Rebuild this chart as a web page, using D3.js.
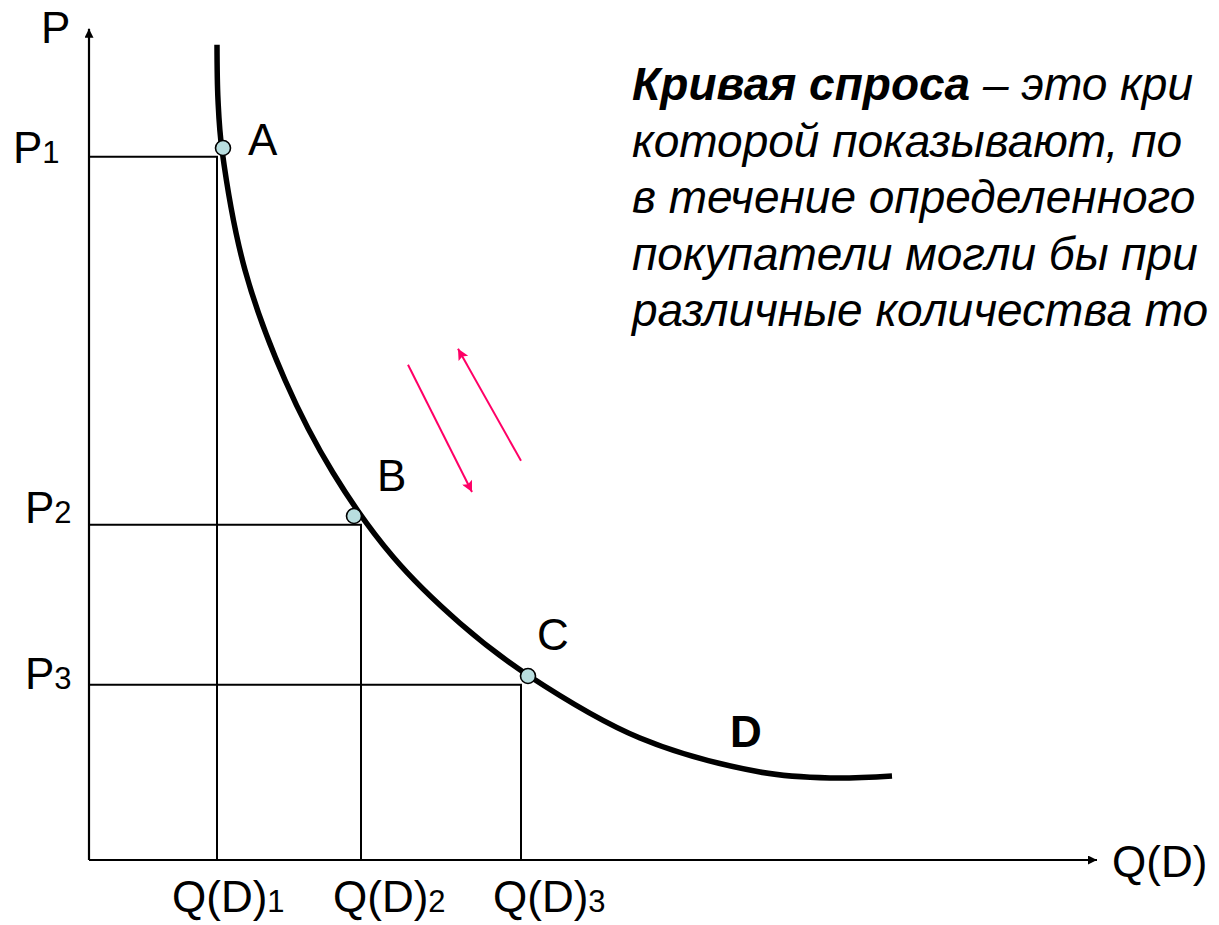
<!DOCTYPE html>
<html><head><meta charset="utf-8">
<script src="https://cdn.jsdelivr.net/npm/d3@7"></script>
<style>
html,body{margin:0;padding:0;background:#fff;overflow:hidden}
svg{display:block}
text{font-family:"Liberation Sans",Arial,sans-serif;fill:#000}
</style></head>
<body>
<script>
// ---- data (quantity units on x, price units on y) ----
const quantities = [12.8, 27.2, 43.2];               // Q(D)1, Q(D)2, Q(D)3
const prices = [87.9, 41.9, 21.9];                   // P1, P2, P3
const pointNames = ["A", "B", "C"];
const pointQ = [13.4, 26.5, 43.9];
const pointP = [89.0, 43.0, 23.0];
const curveQ = [12.8, 12.9, 13.3, 15.6, 19.6, 24.4, 30.4, 37.1, 43.9, 55.1, 67.1, 74.1, 80.3];
const curveP = [101.9, 95.0, 88.75, 73.75, 60.0, 48.4, 37.9, 29.6, 23.1, 15.25, 11.0, 10.25, 10.5];
const priceLabels = ["1", "2", "3"];
const qLabels = ["1", "2", "3"];
const moveArrows = [ // [q0,p0,q1,p1]
  [31.9, 61.9, 38.3, 46.0],
  [43.2, 49.9, 36.9, 63.9]
];
// visible part of the definition (the reference is cut at the right edge)
const textLines = [
  "это кри",
  "которой показывают, по",
  "в течение определенного",
  "покупатели могли бы при",
  "различные количества то"
];

const W = 1219, H = 925;
const x = d3.scaleLinear().domain([0, 100]).range([89, 1089]);
const y = d3.scaleLinear().domain([0, 100]).range([860, 60]);

const svg = d3.select("body").append("svg").attr("width", W).attr("height", H);
const defs = svg.append("defs");
defs.append("marker").attr("id", "axArrow").attr("viewBox", "0 0 10 10")
  .attr("refX", 10).attr("refY", 5).attr("markerWidth", 12).attr("markerHeight", 9)
  .attr("markerUnits", "userSpaceOnUse").attr("orient", "auto")
  .append("path").attr("d", "M0,0L10,5L0,10Z").attr("fill", "#000");
defs.append("marker").attr("id", "pinkArrow").attr("viewBox", "0 0 10 10")
  .attr("refX", 10).attr("refY", 5).attr("markerWidth", 16).attr("markerHeight", 11)
  .attr("markerUnits", "userSpaceOnUse").attr("orient", "auto")
  .append("path").attr("d", "M0,0L10,5L0,10L2,5Z").attr("fill", "#FF0066");

// guide lines
quantities.forEach((q, i) => {
  const p = prices[i];
  svg.append("path")
    .attr("d", `M${x(0)},${y(p)}H${x(q)}V${y(0)}`)
    .attr("fill", "none").attr("stroke", "#000").attr("stroke-width", 2);
});

// axes
svg.append("line").attr("x1", x(0)).attr("y1", y(0)).attr("x2", x(0)).attr("y2", y(103.9))
  .attr("stroke", "#000").attr("stroke-width", 2.2).attr("marker-end", "url(#axArrow)");
svg.append("line").attr("x1", x(0)).attr("y1", y(0)).attr("x2", x(100.8)).attr("y2", y(0))
  .attr("stroke", "#000").attr("stroke-width", 2.2).attr("marker-end", "url(#axArrow)");

// demand curve
const curveData = curveQ.map((q, i) => [q, curveP[i]]);
svg.append("path").datum(curveData)
  .attr("d", d3.line().x(d => x(d[0])).y(d => y(d[1])).curve(d3.curveCatmullRom.alpha(0.5)))
  .attr("fill", "none").attr("stroke", "#000").attr("stroke-width", 5.5).attr("stroke-linecap", "butt");

// points
pointQ.forEach((q, i) => {
  svg.append("circle").attr("cx", x(q)).attr("cy", y(pointP[i])).attr("r", 7.5)
    .attr("fill", "#B9DEDF").attr("stroke", "#000").attr("stroke-width", 1.6);
});

// move arrows
moveArrows.forEach(a => {
  svg.append("line").attr("x1", x(a[0])).attr("y1", y(a[1])).attr("x2", x(a[2])).attr("y2", y(a[3]))
    .attr("stroke", "#FF0066").attr("stroke-width", 2).attr("marker-end", "url(#pinkArrow)");
});

const FS = 44, SUB = 31;
// axis names
svg.append("text").attr("x", 41).attr("y", 43).attr("font-size", FS).text("P");
svg.append("text").attr("x", 1112).attr("y", 877).attr("font-size", FS).text("Q(D)");

// price labels
const pX = [13, 25, 25], pBase = [163, 523, 689];
prices.forEach((p, i) => {
  const t = svg.append("text").attr("x", pX[i]).attr("y", pBase[i]).attr("font-size", FS);
  t.append("tspan").text("P");
  t.append("tspan").attr("font-size", SUB).text(priceLabels[i]);
});
// quantity labels
const qX = [172, 333, 493];
quantities.forEach((q, i) => {
  const t = svg.append("text").attr("x", qX[i]).attr("y", 912).attr("font-size", FS);
  t.append("tspan").text("Q(D)");
  t.append("tspan").attr("font-size", SUB).text(qLabels[i]);
});
// point names
const nX = [248, 377, 537], nBase = [155, 491, 650];
pointNames.forEach((n, i) => {
  svg.append("text").attr("x", nX[i]).attr("y", nBase[i]).attr("font-size", FS).text(n);
});
svg.append("text").attr("x", 730).attr("y", 747).attr("font-size", FS).attr("font-weight", "bold").text("D");

// definition text
const TFS = 46, tx = 632, base0 = 100, lh = 56.5;
textLines.forEach((line, i) => {
  const t = svg.append("text").attr("x", tx).attr("y", base0 + i * lh)
    .attr("font-size", TFS).attr("font-style", "italic");
  if (i === 0) {
    t.append("tspan").attr("font-weight", "bold").text("Кривая спроса");
    t.append("tspan").text(" – " + line);
  } else {
    t.text(line);
  }
});
</script>
</body></html>
